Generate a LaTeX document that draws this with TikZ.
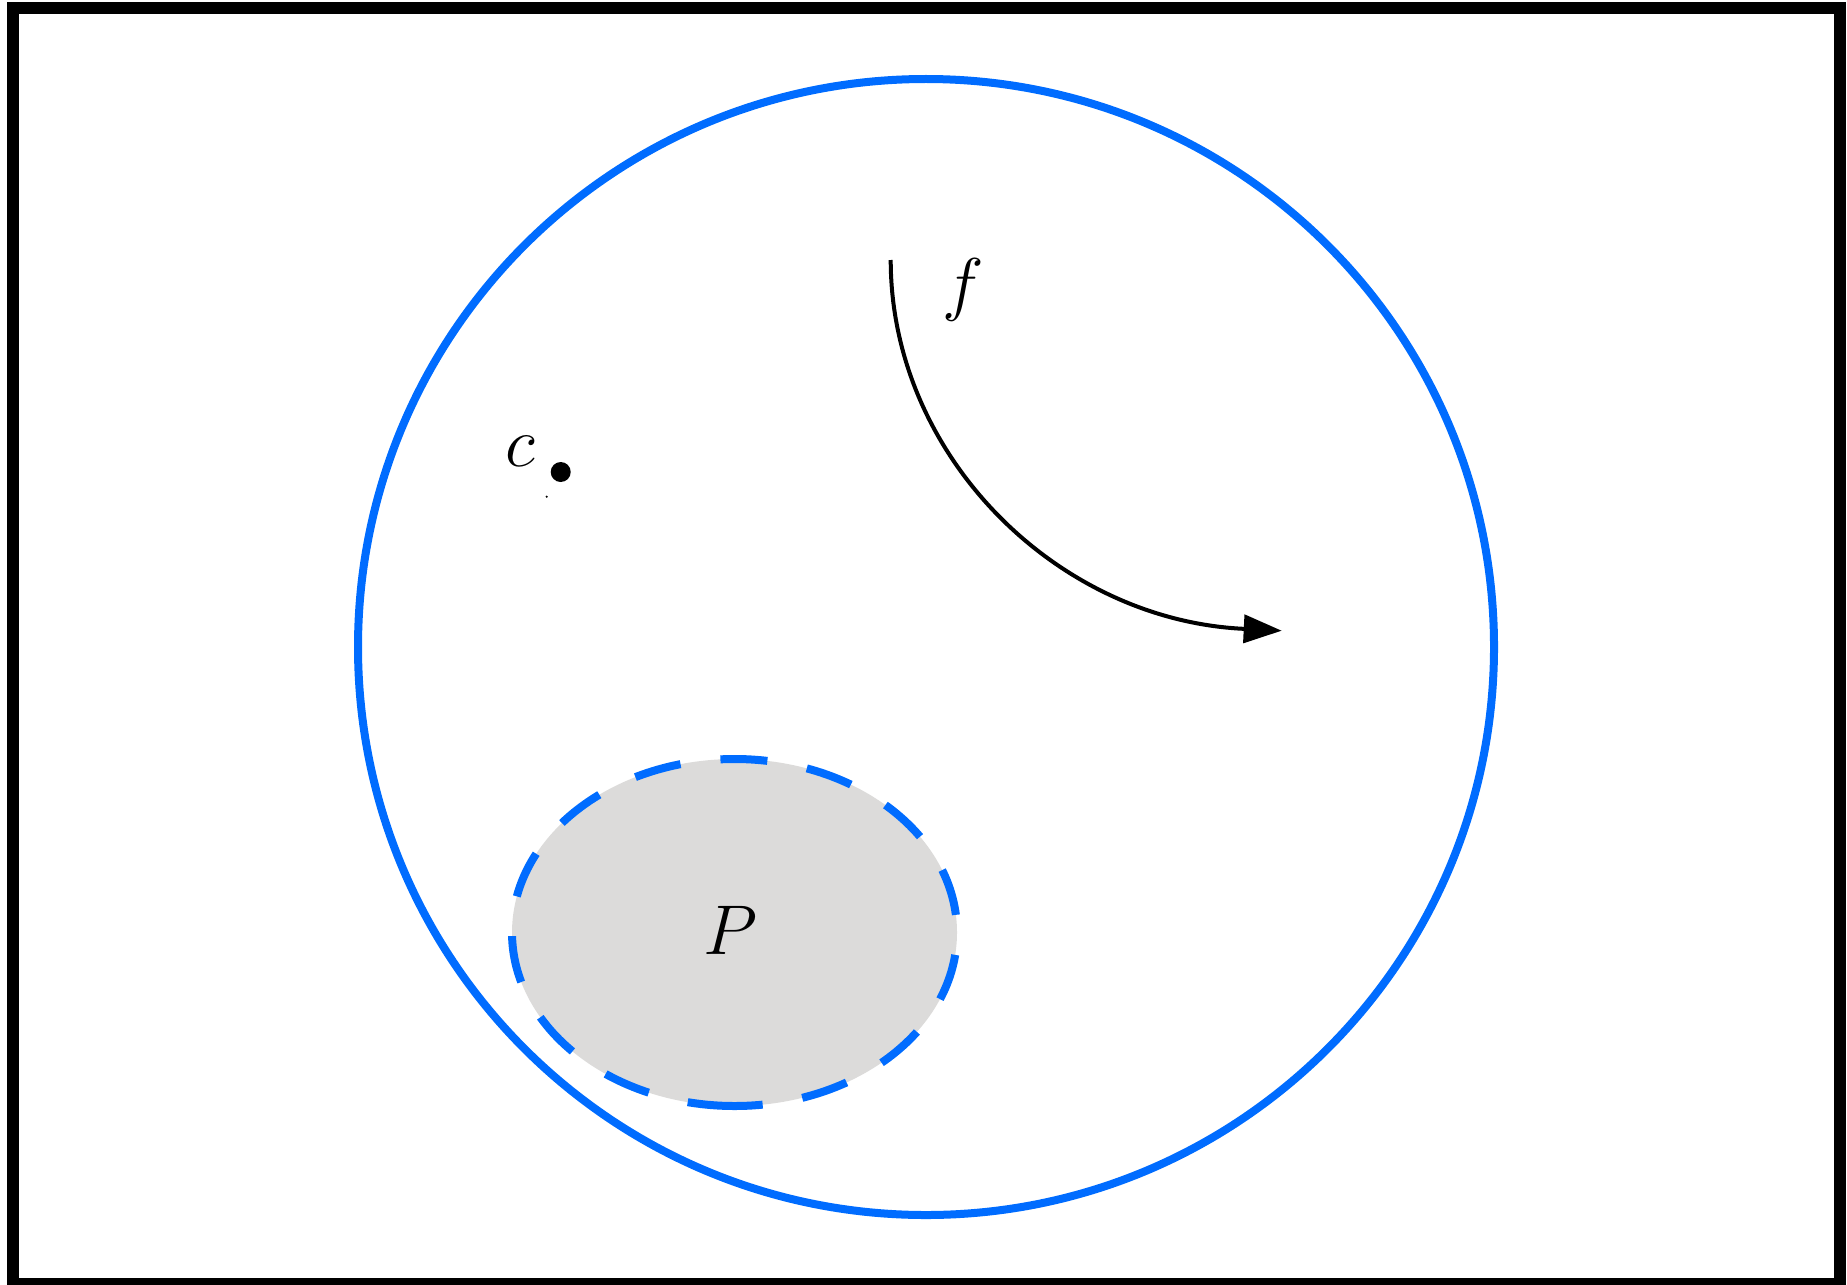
\RequirePackage{fix-cm}
\documentclass[tikz,border=0pt]{standalone}
\usetikzlibrary{arrows.meta}
\definecolor{cblue}{RGB}{0,108,255}
\definecolor{pgray}{RGB}{220,219,218}
\begin{document}
\begin{tikzpicture}[x=0.25pt,y=-0.25pt,
  outerframe/.style={draw=black,line width=3pt},
  bluecircle/.style={draw=cblue,line width=2pt},
  regionfill/.style={fill=pgray},
  regionedge/.style={draw=cblue,line width=2pt,dash pattern=on 11.75pt off 10.05pt},
  maplabel/.style={inner sep=0pt,font=\fontsize{17.6}{21}\selectfont},
  maparrow/.style={draw=black,line width=1pt,-{Triangle[length=9.5pt,width=7pt]}},
  bigdot/.style={circle,fill=black,inner sep=0pt,minimum size=5pt},
  tinydot/.style={circle,fill=black,inner sep=0pt,minimum size=0.6pt}]
\useasboundingbox (0,0) rectangle (1847,1284);
% frame
\draw[outerframe] (13,8) rectangle (1840,1284);
% big circle
\draw[bluecircle] (926,647) circle[radius=568];
% region P
\fill[regionfill] (734.5,932.5) ellipse[x radius=222.5,y radius=173.5];
\draw[regionedge] (734.5,932.5) ++(0,173.5) arc[start angle=90,end angle=450,x radius=222.5,y radius=173.5];
% labels
\node[maplabel] (P) at (730,930) {$P$};
\node[maplabel] (c) at (520,451) {$c$};
\node[maplabel] (f) at (963,290) {$f$};
% dots
\node[bigdot] (cdot) at (560.7,472) {};
\node[tinydot] (tdot) at (546.7,496.7) {};
% arrow f
\coordinate (fstart) at (890.7,260);
\coordinate (fend) at (1243,628.8);
\coordinate (ftip) at (1281.7,630.7);
\draw[maparrow] (fstart) .. controls (890.7,455) and (1056,619.4) .. (fend) -- (ftip);
\end{tikzpicture}
\end{document}
